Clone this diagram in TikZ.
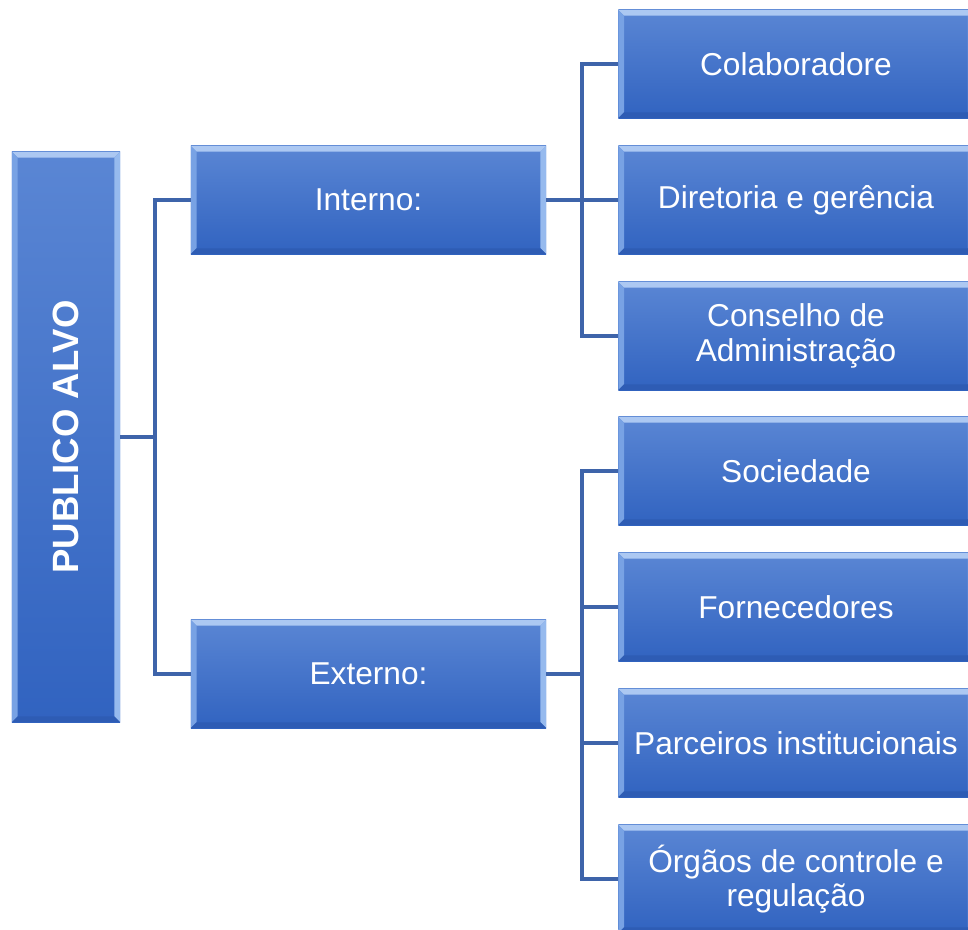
\documentclass[tikz,border=0pt]{standalone}
\usepackage{fontspec}
\setmainfont{Liberation Sans}
\usepackage{tikz}
\usetikzlibrary{positioning}

\definecolor{boxtop}{RGB}{90,134,212}
\definecolor{boxbot}{RGB}{49,99,192}
\definecolor{bevlight}{RGB}{172,200,242}
\definecolor{bevleft}{RGB}{120,162,228}
\definecolor{bevright}{RGB}{150,186,238}
\definecolor{bevdark}{RGB}{46,92,180}
\definecolor{linkcol}{RGB}{62,100,170}

\tikzset{
    bevel/.style={
        path picture={
            \fill[bevlight] (path picture bounding box.north west) -- (path picture bounding box.north east)
                -- ([xshift=-0.14cm,yshift=-0.14cm]path picture bounding box.north east)
                -- ([xshift=0.14cm,yshift=-0.14cm]path picture bounding box.north west) -- cycle;
            \fill[bevleft] (path picture bounding box.north west) -- ([xshift=0.14cm,yshift=-0.14cm]path picture bounding box.north west)
                -- ([xshift=0.14cm,yshift=0.14cm]path picture bounding box.south west)
                -- (path picture bounding box.south west) -- cycle;
            \fill[bevright] (path picture bounding box.north east) -- ([xshift=-0.14cm,yshift=-0.14cm]path picture bounding box.north east)
                -- ([xshift=-0.14cm,yshift=0.14cm]path picture bounding box.south east)
                -- (path picture bounding box.south east) -- cycle;
            \fill[bevdark] (path picture bounding box.south west) -- ([xshift=0.14cm,yshift=0.14cm]path picture bounding box.south west)
                -- ([xshift=-0.14cm,yshift=0.14cm]path picture bounding box.south east)
                -- (path picture bounding box.south east) -- cycle;
        }
    }
}

\begin{document}
\begin{tikzpicture}[
        x=0.025cm, y=-0.025cm,
        box/.style={bevel, top color=boxtop, bottom color=boxbot, text=white,
            minimum width=8.875cm, minimum height=2.7cm, inner sep=0pt, align=center,
            font=\fontsize{22.5}{24.5}\selectfont},
        link/.style={draw=linkcol, line width=2.4pt}
    ]
    \useasboundingbox (0,0) rectangle (968,929);

    % left column
    \node[box, minimum width=2.7cm, minimum height=14.25cm] (pub) at (66,437) {};
    \node[rotate=90, text=white, font=\fontsize{26}{30}\selectfont\bfseries] (publbl) at (pub.center) {PUBLICO ALVO};

    % middle column
    \node[box] (int) at (368.5,200) {Interno:};
    \node[box] (ext) at (368.5,674) {Externo:};

    % right column
    \node[box] (colab) at (796,64) {Colaboradore};
    \node[box] (dir) at (796,200) {Diretoria e gerência};
    \node[box] (cons) at (796,336) {Conselho de\\Administração};
    \node[box] (soc) at (796,471) {Sociedade};
    \node[box] (forn) at (796,607) {Fornecedores};
    \node[box] (parc) at (796,743) {Parceiros institucionais};
    \node[box] (org) at (796,879) {Órgãos de controle e\\regulação};

    % connectors
    \coordinate (j1) at (155,437);
    \coordinate (j2) at (582,200);
    \coordinate (j3) at (582,674);
    \draw[link] (pub.east) -- (j1);
    \draw[link] (j1) |- (int.west);
    \draw[link] (j1) |- (ext.west);
    \draw[link] (int.east) -- (j2);
    \draw[link] (j2) |- (colab.west);
    \draw[link] (j2) -- (dir.west);
    \draw[link] (j2) |- (cons.west);
    \draw[link] (ext.east) -- (j3);
    \draw[link] (j3) |- (soc.west);
    \draw[link] (j3) |- (forn.west);
    \draw[link] (j3) |- (parc.west);
    \draw[link] (j3) |- (org.west);
\end{tikzpicture}
\end{document}
